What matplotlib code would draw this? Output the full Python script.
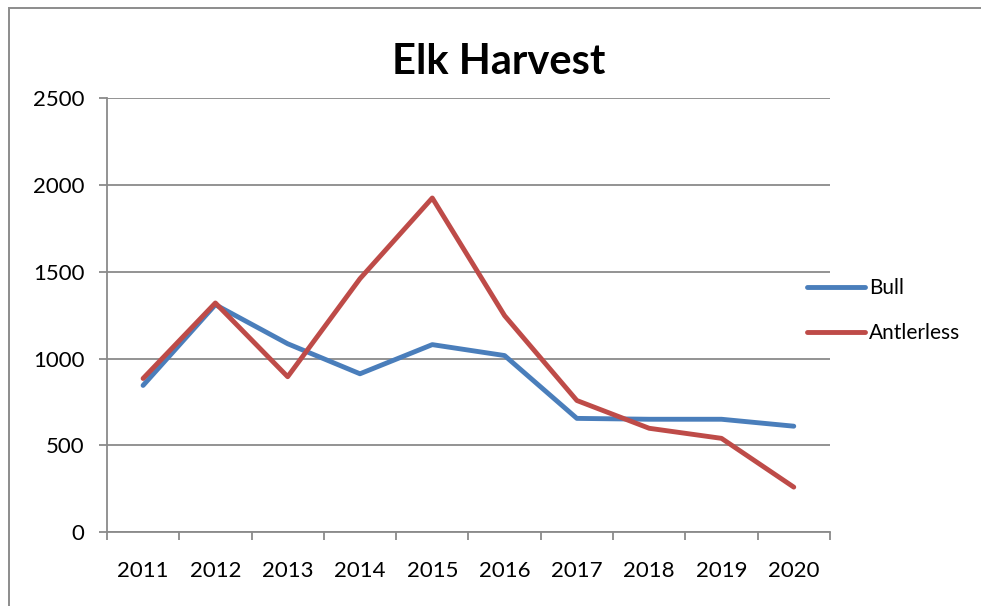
import matplotlib.pyplot as plt
from matplotlib.patches import Rectangle

# data
years = ["2011", "2012", "2013", "2014", "2015", "2016", "2017", "2018", "2019", "2020"]
bull = [845, 1310, 1085, 912, 1080, 1017, 655, 650, 650, 610]
antlerless = [885, 1320, 895, 1460, 1925, 1247, 758, 598, 540, 259]
y_ticks = [0, 500, 1000, 1500, 2000, 2500]

plt.rcParams['font.family'] = ['Lato', 'DejaVu Sans']

fig = plt.figure(figsize=(9.81, 6.06), dpi=100)
ax = fig.add_axes([0.109, 0.122, 0.737, 0.716])

# outer chart border (right and bottom edges fall outside the picture)
fig.patches.append(Rectangle((9 / 981, -0.05), 1.0, 1 - 8 / 606 + 0.05,
                             transform=fig.transFigure, fill=False,
                             edgecolor='#8c8c8c', linewidth=1.4))

x = list(range(len(years)))
ax.plot(x, bull, color='#4A7EBB', linewidth=3.5, label='Bull', solid_capstyle='round')
ax.plot(x, antlerless, color='#BE4B48', linewidth=3.5, label='Antlerless', solid_capstyle='round')

ax.set_xlim(-0.5, len(years) - 0.5)
ax.set_ylim(0, 2500)
ax.set_yticks(y_ticks)
ax.set_yticklabels([str(v) for v in y_ticks], fontsize=16)
ax.yaxis.grid(True, color='#8a8a8a', linewidth=1.3)
ax.set_axisbelow(True)

# category labels at centres, tick marks at boundaries
ax.set_xticks(x)
ax.set_xticklabels(years, fontsize=16)
ax.tick_params(axis='x', length=0, pad=21)
ax.set_xticks([i - 0.5 for i in range(len(years) + 1)], minor=True)
ax.tick_params(axis='x', which='minor', length=6, width=1.3, color='#8a8a8a', direction='out')
ax.tick_params(axis='y', length=6, width=1.3, color='#8a8a8a', pad=10)

for s in ['top', 'right']:
    ax.spines[s].set_visible(False)
for s in ['left', 'bottom']:
    ax.spines[s].set_color('#8a8a8a')
    ax.spines[s].set_linewidth(1.3)

fig.text(0.508, 0.898, 'Elk Harvest', ha='center', va='center', fontsize=30, fontweight='bold')

ax.legend(loc='center left', bbox_to_anchor=(0.804, 0.487), bbox_transform=fig.transFigure,
          frameon=False, fontsize=15, handlelength=2.75, handletextpad=0.2, labelspacing=1.2)

fig.savefig('out.png', dpi=100)
